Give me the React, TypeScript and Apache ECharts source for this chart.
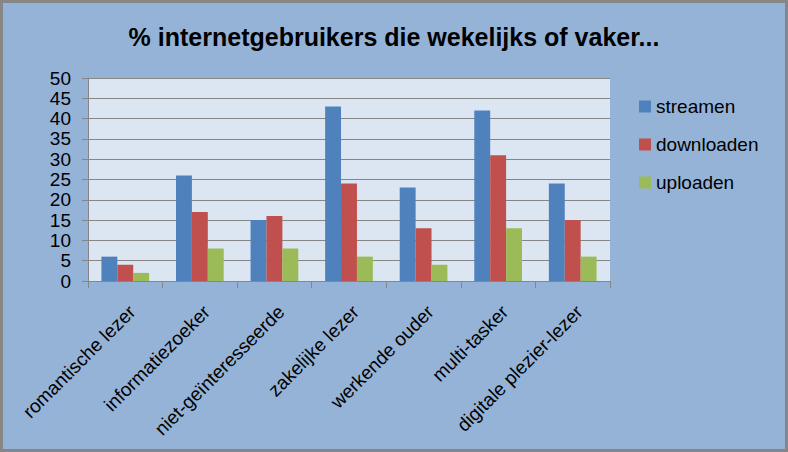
import React, { useEffect, useRef } from "react";
import * as echarts from "echarts";

const categories = [
  "romantische lezer",
  "informatiezoeker",
  "niet-geïnteresseerde",
  "zakelijke lezer",
  "werkende ouder",
  "multi-tasker",
  "digitale plezier-lezer",
];
const streamen = [6, 26, 15, 43, 23, 42, 24];
const downloaden = [4, 17, 16, 24, 13, 31, 15];
const uploaden = [2, 8, 8, 6, 4, 13, 6];
const seriesNames = ["streamen", "downloaden", "uploaden"];
const colors = ["#4F81BD", "#C0504D", "#9BBB59"];
const titleText = "% internetgebruikers die wekelijks of vaker...";

const FONT = "'Liberation Sans', Arial, sans-serif";

export default function App() {
  const ref = useRef<HTMLDivElement>(null);
  useEffect(() => {
    document.body.style.margin = "0";
    const chart = echarts.init(ref.current!, null, { renderer: "svg" });
    const data = [streamen, downloaden, uploaden];
    chart.setOption({
      animation: false,
      backgroundColor: "#95B3D7",
      title: {
        text: titleText,
        left: "center",
        top: 19,
        textStyle: { fontFamily: FONT, fontSize: 25, fontWeight: "bold", color: "#000" },
      },
      legend: {
        orient: "vertical",
        left: 639,
        top: 97,
        padding: 0,
        itemWidth: 12,
        itemHeight: 12,
        itemGap: 19,
        icon: "rect",
        textStyle: { fontFamily: FONT, fontSize: 19, color: "#000" },
        data: seriesNames,
      },
      grid: { left: 88, right: 178, top: 78, bottom: 171, containLabel: false, show: true, backgroundColor: "#DCE6F2", borderWidth: 0 },
      xAxis: {
        type: "category",
        data: categories,
        boundaryGap: true,
        axisLine: { lineStyle: { color: "#868686", width: 1 } },
        axisTick: { show: true, length: 7, lineStyle: { color: "#868686" }, alignWithLabel: false },
        axisLabel: { rotate: 45, margin: 21, interval: 0, verticalAlign: "top", fontFamily: FONT, fontSize: 19, color: "#000" },
        splitLine: { show: false },
      },
      yAxis: {
        type: "value",
        min: 0,
        max: 50,
        interval: 5,
        axisLine: { show: true, lineStyle: { color: "#868686", width: 1 } },
        axisTick: { show: true, length: 6, lineStyle: { color: "#868686" } },
        axisLabel: { margin: 17, fontFamily: FONT, fontSize: 19, color: "#000" },
        splitLine: { lineStyle: { color: "#868686", width: 1 } },
      },
      series: seriesNames.map((name, i) => ({
        name,
        type: "bar",
        data: data[i],
        barGap: "0%",
        barCategoryGap: "36%",
        itemStyle: { color: colors[i] },
      })),
      graphic: [
        {
          type: "rect",
          shape: { x: 1.5, y: 1.5, width: 785, height: 449 },
          style: { fill: "none", stroke: "#868686", lineWidth: 3 },
          silent: true,
          z: 100,
        },
      ],
    });
    return () => chart.dispose();
  }, []);
  return <div ref={ref} style={{ position: "absolute", left: 0, top: 0, width: 788, height: 452 }} />;
}
